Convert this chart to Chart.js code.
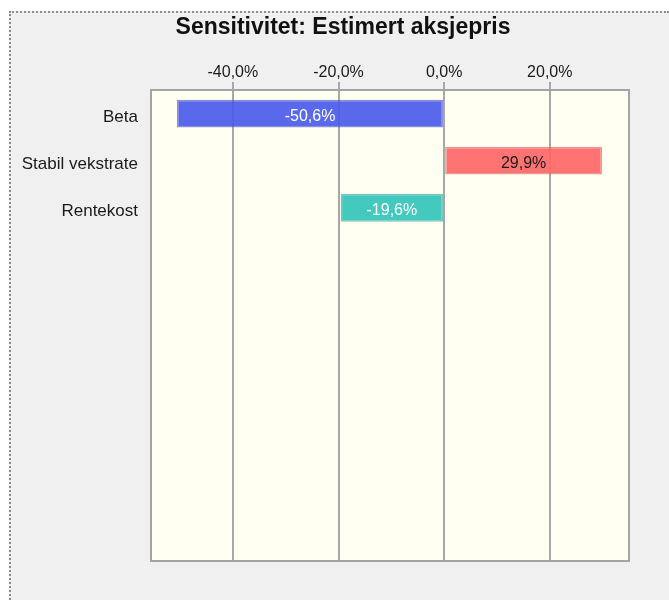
<!DOCTYPE html>
<html>
<head>
<meta charset="utf-8">
<script src="https://cdn.jsdelivr.net/npm/chart.js@4"></script>
<style>
  html, body { margin: 0; padding: 0; background: #fff; }
  #frame {
    position: absolute; left: 9px; top: 11px; right: 0; bottom: 0;
    border-left: 2px dotted #8a8a8a; border-top: 2px dotted #8a8a8a;
    background: #f0f0f0;
  }
  #wrap { position: absolute; left: 0; top: 0; right: 0; bottom: 0; }
</style>
</head>
<body>
<div id="frame"><div id="wrap"><canvas id="chart-sens"></canvas></div></div>
<script>
const categories = ["Beta", "Stabil vekstrate", "Rentekost"];
const values = [-50.6, 29.9, -19.6];
const xTicks = [-40, -20, 0, 20];
const slots = 10; // the plot keeps room for 10 rows

const labels = categories.concat(Array(slots - categories.length).fill(""));

function pct(v) {
  return v.toFixed(1).replace(".", ",") + "%";
}

// cream plot area with grey frame
const plotFrame = {
  id: "plotFrame",
  beforeDraw(chart) {
    const { ctx, chartArea: a } = chart;
    ctx.save();
    ctx.fillStyle = "#fffff2";
    ctx.fillRect(a.left, a.top, a.right - a.left, a.bottom - a.top);
    ctx.restore();
  },
  afterDraw(chart) {
    const { ctx, chartArea: a } = chart;
    ctx.save();
    ctx.strokeStyle = "#a4a4a4";
    ctx.lineWidth = 2;
    ctx.strokeRect(a.left, a.top, a.right - a.left, a.bottom - a.top);
    ctx.restore();
  },
};

// value text in the middle of each bar
const barText = {
  id: "barText",
  afterDatasetsDraw(chart) {
    const ctx = chart.ctx;
    const meta = chart.getDatasetMeta(0);
    const textColors = ["#ffffff", "#1a1a1a", "#ffffff"];
    ctx.save();
    ctx.font = "16px 'Liberation Sans', Arial, sans-serif";
    ctx.textAlign = "center";
    ctx.textBaseline = "middle";
    meta.data.forEach((bar, i) => {
      const v = chart.data.datasets[0].data[i];
      if (v == null) return;
      ctx.fillStyle = textColors[i];
      ctx.fillText(pct(v), (bar.x + bar.base) / 2, bar.y + 3);
    });
    ctx.restore();
  },
};

new Chart(document.getElementById("chart-sens"), {
  type: "bar",
  plugins: [plotFrame, barText],
  data: {
    labels: labels,
    datasets: [
      {
        data: values,
        backgroundColor: [
          "rgba(76, 92, 234, 0.92)",
          "rgba(255, 100, 100, 0.9)",
          "rgba(52, 196, 186, 0.92)",
        ],
        borderColor: [
          "rgba(60, 72, 200, 0.6)",
          "rgba(210, 90, 90, 0.6)",
          "rgba(40, 160, 150, 0.6)",
        ],
        borderWidth: 1.5,
        borderSkipped: false,
        barPercentage: 0.59,
        categoryPercentage: 1,
      },
    ],
  },
  options: {
    indexAxis: "y",
    responsive: true,
    maintainAspectRatio: false,
    animation: false,
    layout: {
      padding: { left: 6, right: 0, top: 0, bottom: 39 },
    },
    plugins: {
      legend: { display: false },
      tooltip: { enabled: false },
      title: {
        display: true,
        text: "Sensitivitet: Estimert aksjepris",
        color: "#111",
        font: { size: 23, weight: "bold", family: "'Liberation Sans', Arial, sans-serif" },
        padding: { top: 1, bottom: 21.2 },
      },
    },
    scales: {
      x: {
        position: "top",
        min: -55.5,
        max: 35,
        afterBuildTicks(axis) {
          axis.ticks = xTicks.map((v) => ({ value: v }));
        },
        grid: {
          display: true,
          drawOnChartArea: true,
          drawTicks: true,
          tickLength: 8,
          color: "#a8a8a8",
          lineWidth: 2,
        },
        border: { display: false },
        ticks: {
          padding: 0,
          color: "#1a1a1a",
          font: { size: 16, family: "'Liberation Sans', Arial, sans-serif" },
          callback: (v) => pct(v),
        },
      },
      y: {
        grid: { display: false },
        border: { display: false },
        afterFit(axis) {
          axis.width = 134;
        },
        ticks: {
          padding: 5,
          labelOffset: 4,
          color: "#1a1a1a",
          font: { size: 17, family: "'Liberation Sans', Arial, sans-serif" },
        },
      },
      // empty strip on the right of the plot
      yRight: {
        type: "linear",
        position: "right",
        display: true,
        grid: { display: false },
        border: { display: false },
        ticks: { display: false },
        afterFit(axis) {
          axis.width = 40;
        },
      },
    },
  },
});
</script>
</body>
</html>
